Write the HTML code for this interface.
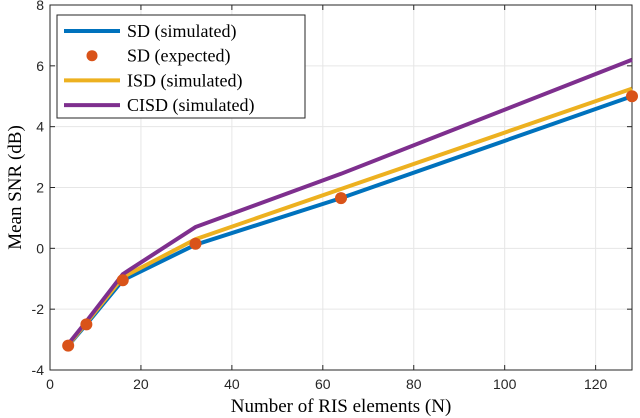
<!DOCTYPE html>
<html><head><meta charset="utf-8"><style>body{margin:0;background:#fff}svg{display:block}text{font-family:"Liberation Sans",sans-serif}</style></head>
<body>
<svg id="c" width="640" height="418"></svg>
<script>
const N=[4,8,16,32,64,128];
const sdSim=[-3.2,-2.5,-1.05,0.12,1.65,5.0];
const sdExp=[-3.2,-2.5,-1.05,0.15,1.65,5.0];
const isdSim=[-3.18,-2.45,-0.95,0.3,1.95,5.25];
const cisdSim=[-3.15,-2.4,-0.85,0.7,2.45,6.2];
const xTicks=[0,20,40,60,80,100,120];
const yTicks=[-4,-2,0,2,4,6,8];
const L=50,R=632,T=5,B=370;
const xs=v=>L+(v-0)/128*(R-L);
const ys=v=>B-(v+4)/12*(B-T);
const svg=document.getElementById('c');const ns='http://www.w3.org/2000/svg';
function mk(t,a,p){const e=document.createElementNS(ns,t);for(const k in a)e.setAttribute(k,a[k]);(p||svg).appendChild(e);return e;}
xTicks.forEach(v=>{const g=mk('line',{x1:xs(v),x2:xs(v),y1:T,y2:B,stroke:'#e6e6e6'});


const t=mk('text',{x:xs(v),y:B+19,'text-anchor':'middle','font-size':14,fill:'#262626'});t.textContent=v;


mk('line',{x1:xs(v),x2:xs(v),y1:B,y2:B-5,stroke:'#262626'});mk('line',{x1:xs(v),x2:xs(v),y1:T,y2:T+5,stroke:'#262626'});});
yTicks.forEach(v=>{const g=mk('line',{x1:L,x2:R,y1:ys(v),y2:ys(v),stroke:'#e6e6e6'});


const t=mk('text',{x:L-6,y:ys(v)+5,'text-anchor':'end','font-size':14,fill:'#262626'});t.textContent=v;


mk('line',{x1:L,x2:L+5,y1:ys(v),y2:ys(v),stroke:'#262626'});mk('line',{x1:R,x2:R-5,y1:ys(v),y2:ys(v),stroke:'#262626'});});
const fr=mk('rect',{x:L,y:T,width:R-L,height:B-T,fill:'none',stroke:'#262626'});


function line(d,c,name){const p=mk('polyline',{points:N.map((n,i)=>xs(n)+','+ys(d[i])).join(' '),fill:'none',stroke:c,'stroke-width':4});

}
line(sdSim,'#0072bd','sd-simulated-line');
line(isdSim,'#edb120','isd-simulated-line');
line(cisdSim,'#7e2f8e','cisd-simulated-line');
N.forEach((n,i)=>{const c=mk('circle',{cx:xs(n),cy:ys(sdExp[i]),r:6,fill:'#d95319'});

});
const lg=mk('g',{});


mk('rect',{x:57,y:15,width:248,height:103,fill:'#fff',stroke:'#262626'},lg);
const items=[['SD (simulated)','#0072bd','l'],['SD (expected)','#d95319','d'],['ISD (simulated)','#edb120','l'],['CISD (simulated)','#7e2f8e','l']];
items.forEach((it,i)=>{const y=31+i*24.7;
if(it[2]=='l')mk('line',{x1:64,x2:120,y1:y,y2:y,stroke:it[1],'stroke-width':4},lg);else mk('circle',{cx:92,cy:y,r:5.5,fill:it[1]},lg);
const t=mk('text',{x:127,y:y+6,'font-size':18,fill:'#000',style:'font-family:"Liberation Serif",serif'},lg);t.textContent=it[0];

});
const xt=mk('text',{x:(L+R)/2,y:412,'text-anchor':'middle','font-size':19,style:'font-family:"Liberation Serif",serif'});xt.textContent='Number of RIS elements (N)';


const yt=mk('text',{x:0,y:0,'text-anchor':'middle','font-size':19,transform:'translate(21,'+((T+B)/2)+') rotate(-90)',style:'font-family:"Liberation Serif",serif'});yt.textContent='Mean SNR (dB)';


</script>
</body></html>
